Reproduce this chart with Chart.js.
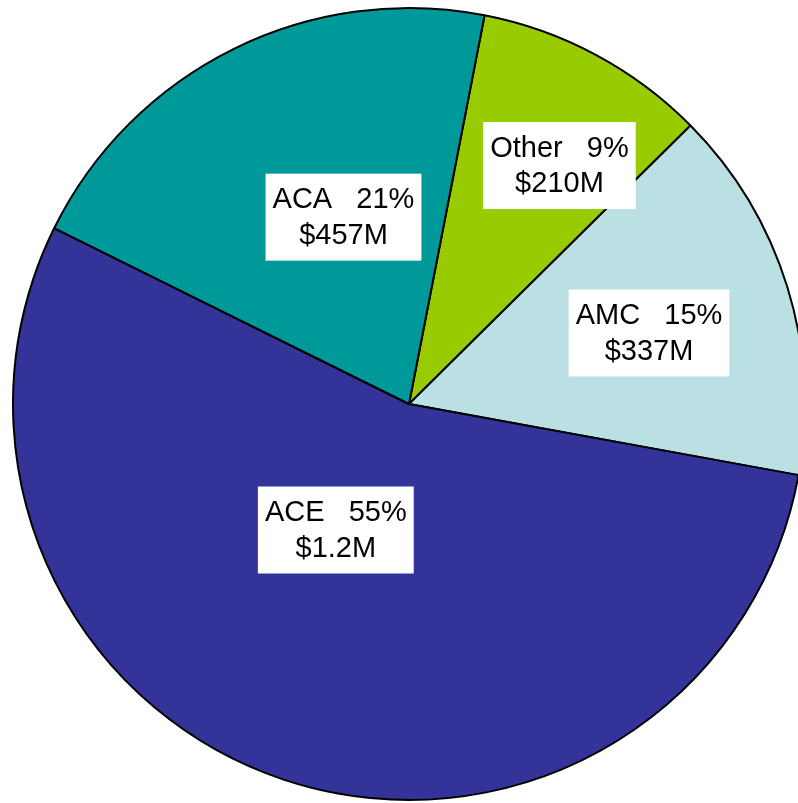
<!DOCTYPE html>
<html>
<head>
<meta charset="utf-8">
<title>Revenue by segment</title>
<script src="https://cdn.jsdelivr.net/npm/chart.js@4.4.1/dist/chart.umd.min.js"></script>
<style>
  html, body { margin: 0; padding: 0; background: #ffffff; overflow: hidden; width: 798px; height: 803px; }
  #wrap { position: absolute; left: 0; top: 0; width: 818px; height: 808px; }
  canvas { display: block; }
</style>
</head>
<body>
<div id="wrap"><canvas id="pie" width="818" height="808"></canvas></div>
<script>
// Segments, clockwise from the top
const segments = ['Other', 'AMC', 'ACE', 'ACA'];
// Revenue in millions of dollars
const revenue = [210, 337, 1200, 457];
// Share labels as printed on each slice
const shareText = ['9%', '15%', '55%', '21%'];
const revenueText = ['$210M', '$337M', '$1.2M', '$457M'];
const sliceColors = ['#99cc00', '#bbe0e3', '#333399', '#009999'];

// White boxed two-line labels, placed relative to each slice's middle angle
const boxedLabels = {
  id: 'boxedLabels',
  afterDatasetsDraw(chart, args, opts) {
    const ctx = chart.ctx;
    const arcs = chart.getDatasetMeta(0).data;
    ctx.save();
    ctx.font = opts.font;
    ctx.textAlign = 'center';
    ctx.textBaseline = 'alphabetic';
    arcs.forEach((arc, i) => {
      const p = opts.place[i];
      const mid = (arc.startAngle + arc.endAngle) / 2 + p.turn * Math.PI / 180;
      const r = arc.outerRadius * p.dist;
      const cx = arc.x + Math.cos(mid) * r;
      const cy = arc.y + Math.sin(mid) * r;
      const line1 = segments[i] + '   ' + shareText[i];
      const line2 = revenueText[i];
      const w = Math.max(ctx.measureText(line1).width, ctx.measureText(line2).width) + opts.padX * 2;
      const h = opts.boxHeight;
      const top = cy - h / 2;
      ctx.fillStyle = '#ffffff';
      ctx.fillRect(cx - w / 2, top, w, h);
      ctx.fillStyle = '#000000';
      ctx.fillText(line1, cx, top + opts.base1);
      ctx.fillText(line2, cx, top + opts.base2);
    });
    ctx.restore();
  }
};

new Chart(document.getElementById('pie'), {
  type: 'pie',
  data: {
    labels: segments,
    datasets: [{
      data: revenue,
      backgroundColor: sliceColors,
      borderColor: '#000000',
      borderWidth: 2
    }]
  },
  options: {
    responsive: false,
    animation: false,
    events: [],
    rotation: 11,
    layout: { padding: { left: 12, top: 7, right: 12, bottom: 7 } },
    plugins: {
      legend: { display: false },
      tooltip: { enabled: false },
      boxedLabels: {
        font: '29px "Liberation Sans", Arial, sans-serif',
        padX: 7,
        boxHeight: 87,
        base1: 34.5,
        base2: 70,
        place: [
          { turn: 4.1, dist: 0.712 },
          { turn: 0.7, dist: 0.632 },
          { turn: 11.8, dist: 0.368 },
          { turn: 7.0, dist: 0.5 }
        ]
      }
    }
  },
  plugins: [boxedLabels]
});
</script>
</body>
</html>
